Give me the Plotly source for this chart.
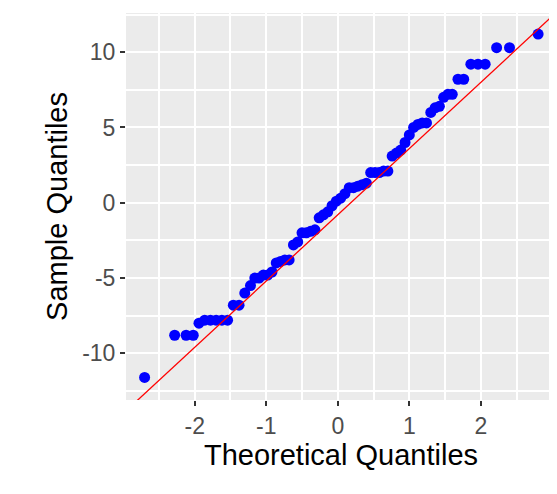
import plotly.graph_objects as go

# theoretical quantiles (x) and sample quantiles (y)
theo = [-2.70, -2.28, -2.12, -2.02, -1.94, -1.86, -1.78, -1.70, -1.62, -1.54, -1.46,
        -1.38, -1.30, -1.22, -1.16, -1.10, -1.04, -0.98, -0.92, -0.86, -0.80,
        -0.74, -0.68, -0.62, -0.56, -0.50, -0.44, -0.38, -0.32, -0.26, -0.20,
        -0.14, -0.08, -0.02, 0.04, 0.10, 0.16, 0.22, 0.28, 0.34, 0.40, 0.46,
        0.52, 0.58, 0.64, 0.70, 0.76, 0.82, 0.88, 0.94, 1.00, 1.06, 1.12,
        1.18, 1.24, 1.30, 1.36, 1.42, 1.48, 1.54, 1.60, 1.68, 1.76, 1.86,
        1.96, 2.06, 2.22, 2.40, 2.80]
sample = [-11.6, -8.8, -8.8, -8.8, -8.0, -7.8, -7.8, -7.8, -7.8, -7.8, -6.8,
          -6.8, -6.0, -5.5, -5.0, -5.0, -4.8, -4.8, -4.6, -4.0, -3.9,
          -3.8, -3.8, -2.8, -2.6, -2.0, -2.0, -1.9, -1.8, -1.0, -0.8,
          -0.6, -0.2, 0.1, 0.3, 0.6, 1.0, 1.0, 1.1, 1.2, 1.3, 2.0,
          2.0, 2.0, 2.1, 2.1, 3.1, 3.3, 3.5, 4.0, 4.5, 5.0, 5.2,
          5.3, 5.3, 6.0, 6.3, 6.4, 7.0, 7.2, 7.2, 8.2, 8.2, 9.2,
          9.2, 9.2, 10.3, 10.3, 11.2]

x_ticks = [-2, -1, 0, 1, 2]
y_ticks = [-10, -5, 0, 5, 10]

line_x = [-3.0, 3.1]
slope, intercept = 4.4, -0.8
line_y = [intercept + slope * v for v in line_x]

fig = go.Figure()
fig.add_trace(go.Scatter(x=theo, y=sample, mode='markers',
                         marker=dict(color='#0000FF', size=11, line=dict(width=0))))
fig.add_trace(go.Scatter(x=line_x, y=line_y, mode='lines',
                         line=dict(color='#FF0000', width=1.3)))

axis_common = dict(showgrid=True, gridcolor='white', gridwidth=1.8, automargin=False,
                   zeroline=False, ticks='outside', ticklen=5, tickwidth=1.5,
                   tickcolor='#333333', showline=False,
                   tickfont=dict(family='Liberation Sans, Arial', size=23, color='#4D4D4D'),
                   title_font=dict(family='Liberation Sans, Arial', size=29, color='black'))

fig.update_xaxes(axis_common, range=[-2.96, 3.05], tickvals=x_ticks,
                 ticktext=[str(v) for v in x_ticks],
                 minor=dict(dtick=0.5, tick0=0.5, showgrid=True, gridcolor='white', gridwidth=1.8),
                 title_text='Theoretical Quantiles', title_standoff=4)
fig.update_yaxes(axis_common, range=[-13.1, 12.6], tickvals=y_ticks,
                 ticktext=[str(v) for v in y_ticks],
                 minor=dict(dtick=2.5, tick0=2.5, showgrid=True, gridcolor='white', gridwidth=1.8),
                 title_text='Sample Quantiles', title_standoff=6)

fig.update_layout(width=557, height=494, showlegend=False,
                  plot_bgcolor='#EBEBEB', paper_bgcolor='white',
                  margin=dict(l=118, r=9, t=5, b=102))

fig.write_html("out.html")
